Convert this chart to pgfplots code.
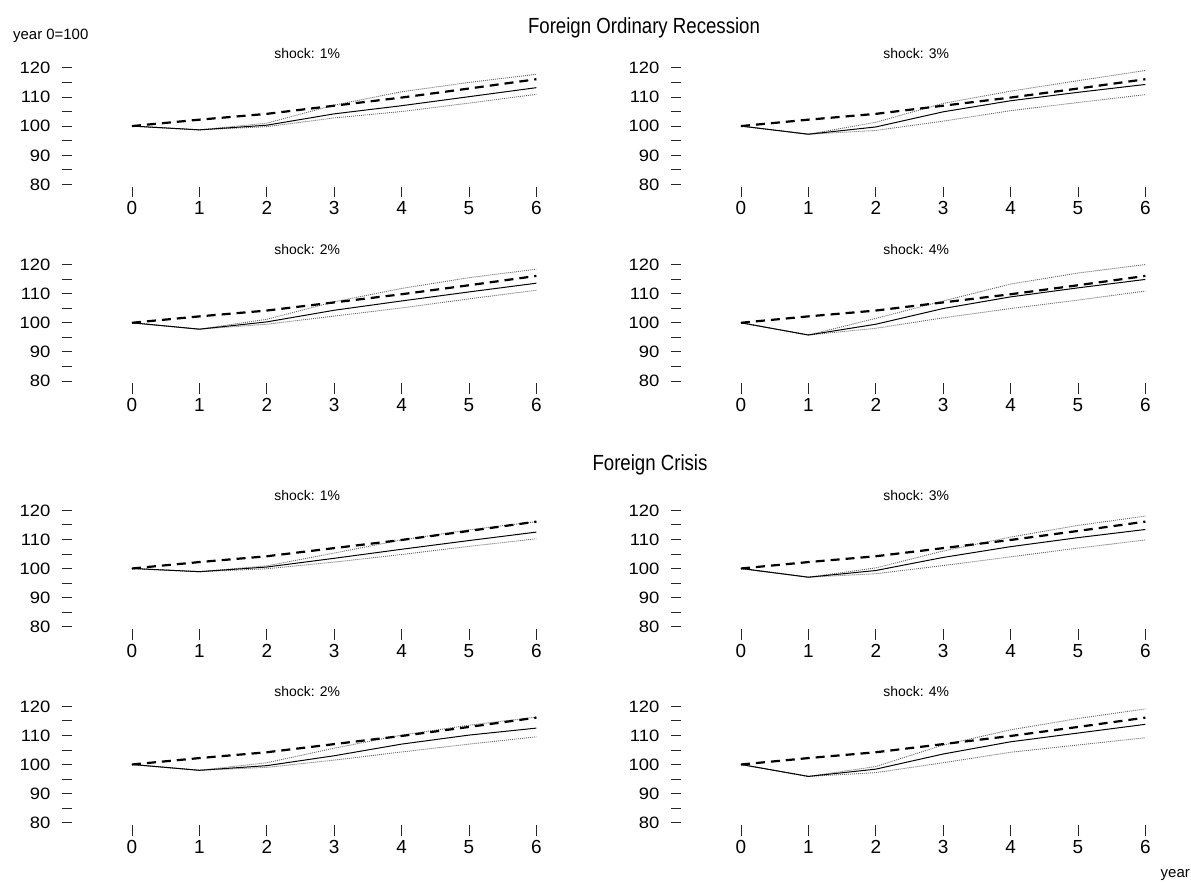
\documentclass[border=0pt]{standalone}
\usepackage{pgfplots}
\pgfplotsset{compat=1.18}
\usepackage{fontspec}
\setmainfont{Liberation Sans}
\newfontfamily\condfont[FakeStretch=0.85]{Liberation Sans}
\newfontfamily\widefont[FakeStretch=1.12]{Liberation Sans}

\pgfplotsset{
  panel/.style={
    x=67.4bp, y=2.91bp,
    xmin=-0.89, xmax=6, ymin=79.2, ymax=120,
    axis lines*=left,
    axis line style={draw=none},
    scale only axis,
    clip=false,
    tick align=outside,
    major tick length=10.5bp,
    minor tick length=10.5bp,
    every tick/.style={black!85, line width=0.8bp},
    xtick={0,...,6},
    ytick={80,90,...,120},
    minor ytick={85,95,105,115},
    /pgf/number format/assume math mode=true,
    yticklabel style={font=\widefont\fontsize{16.5}{18}\selectfont, anchor=east, inner sep=0pt, xshift=-11bp, text height=11.8bp, text depth=0pt},
    xticklabel style={font=\fontsize{19}{22}\selectfont, anchor=north, inner sep=0pt, yshift=-4bp, text height=13.6bp, text depth=0pt},
  },
  base/.style={black, line width=2.2bp, dash pattern=on 9bp off 6bp},
  mid/.style={black, line width=1bp},
  band/.style={black!60, line width=0.9bp, dash pattern=on 1bp off 1bp},
}

\newcommand{\panel}[6]{%
  \begin{axis}[panel, at={(#1bp,-#2bp)}, anchor=south west]
    \addplot[band] coordinates {#5};
    \addplot[band] coordinates {#6};
    \addplot[mid] coordinates {#4};
    \addplot[base] coordinates {(0,100) (1,102.2) (2,104.2) (3,107.0) (4,109.8) (5,112.9) (6,116.1)};
    \node[anchor=base, inner sep=0pt, font=\fontsize{14}{16}\selectfont] at (axis cs:2.6,120) [yshift=9.7bp] {#3};
  \end{axis}}

\begin{document}
\begin{tikzpicture}
\useasboundingbox (0,0) rectangle (1191bp,-883bp);

\node[anchor=base, inner sep=0pt, font=\condfont\fontsize{22}{26}\selectfont] at (644bp,-33.3bp) {Foreign Ordinary Recession};
\node[anchor=base, inner sep=0pt, font=\condfont\fontsize{22}{26}\selectfont] at (650bp,-470bp) {Foreign Crisis};
\node[anchor=base west, inner sep=0pt, font=\fontsize{15}{18}\selectfont] at (13bp,-39.3bp) {year 0=100};
\node[anchor=base east, inner sep=0pt, font=\fontsize{15}{18}\selectfont] at (1190bp,-877bp) {year};

% Foreign Ordinary Recession
\panel{72}{186.6}{shock: 1\%}
  {(0,100) (1,98.7) (2,100.3) (3,104.2) (4,107.0) (5,110.1) (6,113.2)}
  {(0,100) (1,98.7) (2,101.0) (3,107.2) (4,111.8) (5,115.0) (6,117.8)}
  {(0,100) (1,98.7) (2,99.8) (3,102.8) (4,105.0) (5,107.9) (6,110.9)}
\panel{681}{186.6}{shock: 3\%}
  {(0,100) (1,97.2) (2,99.7) (3,104.9) (4,108.7) (5,111.6) (6,114.3)}
  {(0,100) (1,97.2) (2,101.3) (3,107.8) (4,112.0) (5,115.6) (6,119.1)}
  {(0,100) (1,97.2) (2,98.5) (3,101.7) (4,105.3) (5,108.1) (6,110.8)}
\panel{72}{383.3}{shock: 2\%}
  {(0,100) (1,97.8) (2,100.3) (3,104.3) (4,107.5) (5,110.6) (6,113.6)}
  {(0,100) (1,97.8) (2,101.2) (3,107.2) (4,111.8) (5,115.5) (6,118.4)}
  {(0,100) (1,97.8) (2,99.5) (3,102.3) (4,105.1) (5,108.2) (6,111.2)}
\panel{681}{383.3}{shock: 4\%}
  {(0,100) (1,95.8) (2,99.5) (3,104.9) (4,108.9) (5,112.0) (6,114.9)}
  {(0,100) (1,95.8) (2,101.5) (3,107.5) (4,113.3) (5,117.1) (6,120.0)}
  {(0,100) (1,95.8) (2,98.1) (3,101.7) (4,104.9) (5,107.8) (6,110.9)}

% Foreign Crisis
\panel{72}{629.0}{shock: 1\%}
  {(0,100) (1,98.9) (2,100.5) (3,103.5) (4,106.6) (5,109.6) (6,112.5)}
  {(0,100) (1,98.9) (2,100.9) (3,105.3) (4,109.8) (5,113.3) (6,116.1)}
  {(0,100) (1,98.9) (2,99.9) (3,102.2) (4,104.8) (5,107.6) (6,110.2)}
\panel{681}{629.0}{shock: 3\%}
  {(0,100) (1,97.0) (2,99.3) (3,103.8) (4,107.5) (5,110.6) (6,113.4)}
  {(0,100) (1,97.0) (2,100.2) (3,106.0) (4,110.8) (5,114.8) (6,118.0)}
  {(0,100) (1,97.0) (2,98.2) (3,101.0) (4,104.0) (5,107.0) (6,109.8)}
\panel{72}{825.0}{shock: 2\%}
  {(0,100) (1,98.0) (2,99.6) (3,103.0) (4,107.0) (5,110.1) (6,112.5)}
  {(0,100) (1,98.0) (2,100.6) (3,105.6) (4,110.1) (5,113.5) (6,116.3)}
  {(0,100) (1,98.0) (2,99.0) (3,101.5) (4,104.3) (5,107.0) (6,109.5)}
\panel{681}{825.0}{shock: 4\%}
  {(0,100) (1,95.9) (2,98.4) (3,103.6) (4,107.8) (5,110.8) (6,113.8)}
  {(0,100) (1,95.9) (2,99.3) (3,106.7) (4,111.9) (5,115.8) (6,119.1)}
  {(0,100) (1,95.9) (2,97.2) (3,100.6) (4,104.2) (5,106.7) (6,109.2)}
\end{tikzpicture}
\end{document}
